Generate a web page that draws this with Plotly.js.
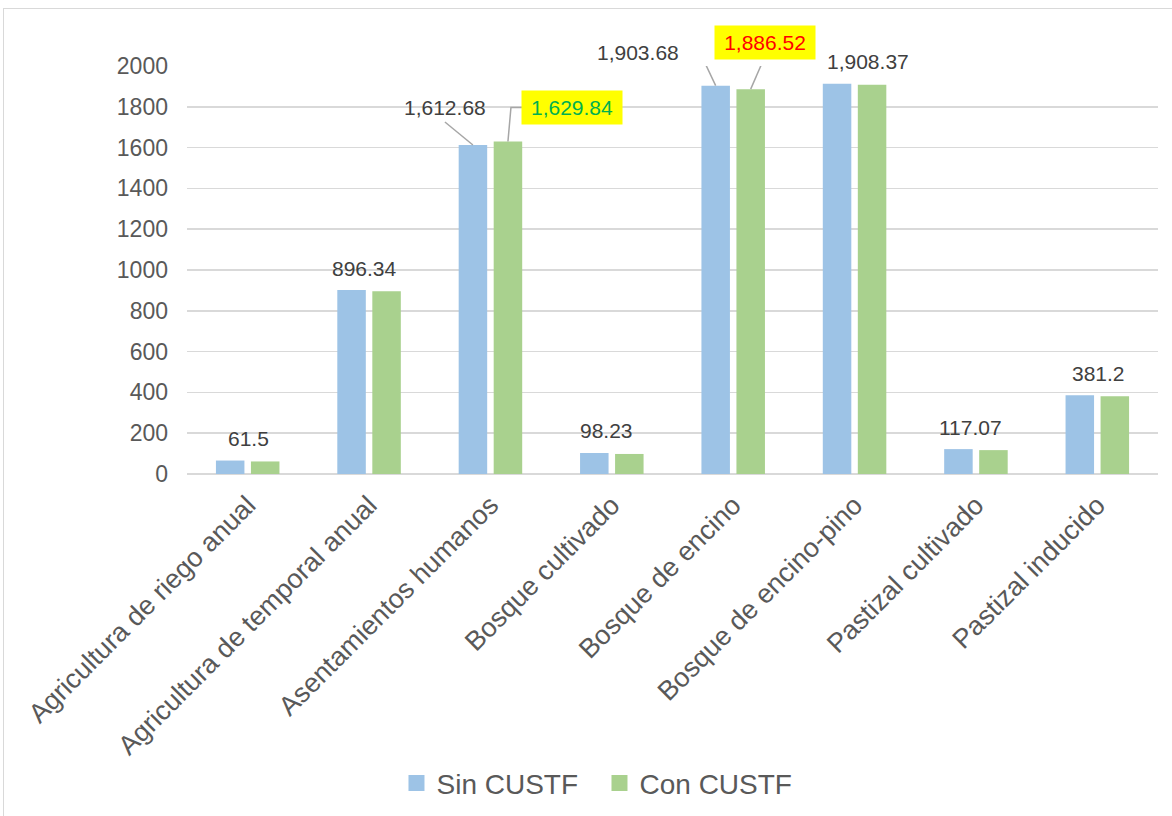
<!DOCTYPE html>
<html>
<head>
<meta charset="utf-8">
<script src="https://cdn.plot.ly/plotly-3.0.1.min.js"></script>
<style>
  html, body { margin: 0; padding: 0; background: #ffffff; overflow: hidden; }
  #chart { position: absolute; left: 0; top: 0; width: 1172px; height: 816px; }
  #frame { position: absolute; left: 3px; top: 8px; width: 1300px; height: 1000px;
           border: 1.5px solid #d9d9d9; pointer-events: none; }
</style>
</head>
<body>
<div id="chart"></div>
<div id="frame"></div>
<script>
// ---- data ----
const categories = [
  "Agricultura de riego anual",
  "Agricultura de temporal anual",
  "Asentamientos humanos",
  "Bosque cultivado",
  "Bosque de encino",
  "Bosque de encino-pino",
  "Pastizal cultivado",
  "Pastizal inducido"
];
const sinCUSTF = [66, 902, 1612.68, 103, 1903.68, 1913, 122, 386];
const conCUSTF = [61.5, 896.34, 1629.84, 98.23, 1886.52, 1908.37, 117.07, 381.2];
const yTicks = [0, 200, 400, 600, 800, 1000, 1200, 1400, 1600, 1800, 2000];
const seriesNames = ["Sin CUSTF", "Con CUSTF"];
const seriesColors = ["#9dc3e6", "#a9d18e"];

const FONT = "Liberation Sans, Arial, sans-serif";
const fmt = v => v.toLocaleString("en-US", {maximumFractionDigits: 2});

const traces = [
  {type: "bar", name: seriesNames[0], x: categories, y: sinCUSTF,
   marker: {color: seriesColors[0]}, hoverinfo: "none", showlegend: false},
  {type: "bar", name: seriesNames[1], x: categories, y: conCUSTF,
   marker: {color: seriesColors[1]}, hoverinfo: "none", showlegend: false},
  // legend entries (square swatches)
  {type: "scatter", mode: "markers", name: seriesNames[0], x: [null], y: [null],
   marker: {symbol: "square", size: 16, color: seriesColors[0]}, hoverinfo: "none"},
  {type: "scatter", mode: "markers", name: seriesNames[1], x: [null], y: [null],
   marker: {symbol: "square", size: 16, color: seriesColors[1]}, hoverinfo: "none"}
];

// plain labels (Con CUSTF) on categories without leader lines
const plainIdx = [0, 1, 3, 5, 6, 7];
const plainDx = [1, -5, -5, 13, -5, 1];
const annotations = plainIdx.map((i, k) => ({
  x: categories[i], y: conCUSTF[i], xref: "x", yref: "y",
  text: fmt(conCUSTF[i]), showarrow: false,
  xanchor: "center", yanchor: "middle", xshift: plainDx[k], yshift: 23,
  font: {family: FONT, size: 21, color: "#404040"}
}));

// labels with leader lines
const BAROFF = 17.5;
function leader(i, series, isBlue, dx, dy, highlight, color) {
  const v = series[i];
  const a = {
    x: categories[i], y: v, xref: "x", yref: "y",
    text: fmt(v), showarrow: false, xanchor: "center", yanchor: "middle",
    xshift: (isBlue ? -BAROFF : BAROFF) + dx, yshift: dy,
    font: {family: FONT, size: 21, color: color}
  };
  if (highlight) {
    a.bgcolor = "#ffff00"; a.width = 92; a.height = 25; a.borderpad = 4;
  }
  return a;
}
annotations.push(leader(2, sinCUSTF, true, -28, 37.5, false, "#404040"));
annotations.push(leader(2, conCUSTF, false, 64, 34, true, "#00b050"));
annotations.push(leader(4, sinCUSTF, true, -78, 33, false, "#404040"));
annotations.push(leader(4, conCUSTF, false, 14, 46.5, true, "#ff0000"));

function leaderLine(i, series, isBlue, path) {
  return {
    type: "path", xref: "x", yref: "y",
    xsizemode: "pixel", ysizemode: "pixel",
    xanchor: i + (isBlue ? -0.1443 : 0.1443), yanchor: series[i],
    path: path, line: {color: "#a6a6a6", width: 1.5}
  };
}
const shapes = [
  leaderLine(2, sinCUSTF, true, "M0,0 L-28,23"),
  leaderLine(2, conCUSTF, false, "M0,0 L3,34 L14,34"),
  leaderLine(4, sinCUSTF, true, "M0,0 L-17,36 L-28,36"),
  leaderLine(4, conCUSTF, false, "M0,0 L13,30")
];

const layout = {
  width: 1172, height: 816,
  margin: {l: 187, r: 14, t: 66, b: 341.5, pad: 0},
  paper_bgcolor: "#ffffff", plot_bgcolor: "#ffffff",
  font: {family: FONT, color: "#595959"},
  barmode: "group", bargap: 0.423, bargroupgap: 0.186,
  showlegend: true,
  legend: {orientation: "h", xref: "container", yref: "container",
           x: 0.3383, y: 0.04, xanchor: "left", yanchor: "middle",
           entrywidthmode: "pixels", entrywidth: 158,
           font: {family: FONT, size: 28, color: "#595959"},
           itemclick: false, itemdoubleclick: false},
  xaxis: {type: "category", tickangle: -45, showgrid: false, showline: false,
          ticks: "", tickfont: {family: FONT, size: 27, color: "#595959"},
          ticklabelstandoff: 9},
  yaxis: {range: [0, 2000], tickvals: yTicks, ticktext: yTicks.map(String),
          showgrid: true, gridcolor: "#d9d9d9", gridwidth: 1.5,
          zeroline: true, zerolinecolor: "#d9d9d9", zerolinewidth: 1.5,
          showline: false, ticks: "", ticklabelstandoff: 18,
          tickfont: {family: FONT, size: 23, color: "#595959"}},
  annotations: annotations,
  shapes: shapes
};

Plotly.newPlot("chart", traces, layout, {staticPlot: true, displayModeBar: false});
</script>
</body>
</html>
